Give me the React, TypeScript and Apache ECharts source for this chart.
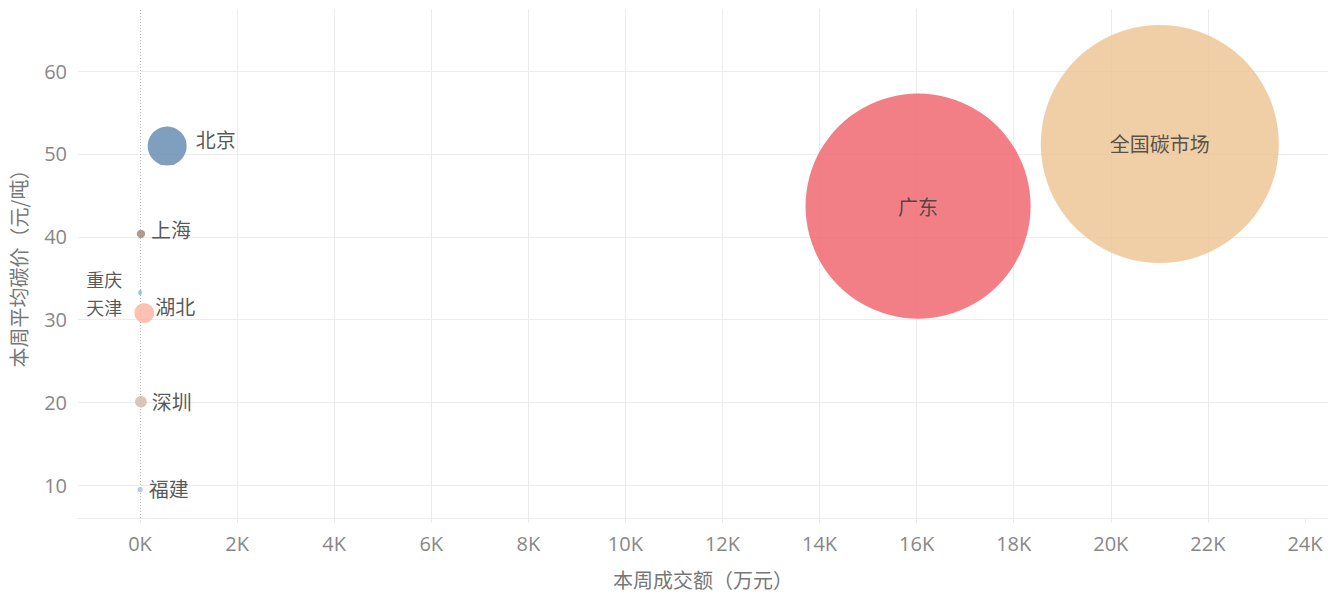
import React, { useEffect, useRef } from "react";
import * as echarts from "echarts";

// Weekly carbon market summary: turnover (万元) against average price (元/吨)
const markets = ["全国碳市场", "广东", "北京", "湖北", "上海", "深圳", "天津", "重庆", "福建"];
const weeklyTurnover = [21010, 16030, 560, 88, 20, 20, 3, 3, 2];
const weeklyAvgPrice = [51.2, 43.7, 50.95, 30.8, 40.35, 20.1, 33.2, 33.4, 9.5];

// Axis ticks
const xTicks = [0, 2000, 4000, 6000, 8000, 10000, 12000, 14000, 16000, 18000, 20000, 22000, 24000];
const yTicks = [10, 20, 30, 40, 50, 60];

const X_MIN = -1277;
const X_MAX = 24475;
const Y_MIN = 6.08;
const Y_MAX = 67.48;

const OPACITY = 0.85;
const colors: Record<string, string> = {
  全国碳市场: "#EDC796",
  广东: "#F16971",
  北京: "#6A8DB2",
  湖北: "#FBB6A4",
  上海: "#A28879",
  深圳: "#D6BBAD",
  天津: "#8FBEE4",
  重庆: "#8FBEE4",
  福建: "#AFC6DE",
};

const labelStyle: Record<string, any> = {
  全国碳市场: { position: "inside" },
  广东: { position: "inside" },
  北京: { position: "right", distance: 9, offset: [0, -7] },
  上海: { position: "right", distance: 6, offset: [0, -4] },
  湖北: { position: "right", distance: 1, offset: [0, -7] },
  深圳: { position: "right", distance: 5, offset: [0, 0] },
  福建: { position: "right", distance: 6, offset: [0, -1] },
  天津: { position: "left", distance: 16, offset: [0, 14], fontSize: 18, lineHeight: 18 },
  重庆: { position: "left", distance: 16, offset: [0, -13], fontSize: 18, lineHeight: 18 },
};

const CJK = "'Noto Sans CJK SC', 'Noto Sans', sans-serif";
const NUM = "'Open Sans', 'Noto Sans', sans-serif";
const GRID = "#ececec";

// bubble area follows traded volume (turnover / price)
const bubbleDiameter = (turnover: number, price: number) =>
  Math.max(3, 11.75 * Math.sqrt(turnover / price));

export default function App() {
  const ref = useRef<HTMLDivElement>(null);

  useEffect(() => {
    if (!ref.current) return;
    const chart = echarts.init(ref.current, undefined, { renderer: "svg" });

    const data = markets.map((name, i) => ({
      name,
      value: [weeklyTurnover[i], weeklyAvgPrice[i]],
      symbolSize: bubbleDiameter(weeklyTurnover[i], weeklyAvgPrice[i]),
      itemStyle: { color: colors[name], opacity: OPACITY },
      label: { show: true, ...labelStyle[name] },
    }));

    chart.setOption({
      animation: false,
      textStyle: { fontFamily: CJK },
      grid: { left: 78, right: 9, top: 9, bottom: 76, containLabel: false },
      xAxis: {
        type: "value",
        min: X_MIN,
        max: X_MAX,
        splitNumber: 12,
        name: "本周成交额（万元）",
        nameLocation: "middle",
        nameGap: 51,
        nameTextStyle: { color: "#777", fontSize: 20, fontFamily: CJK },
        axisLine: { show: true, lineStyle: { color: GRID } },
        axisTick: { show: true, length: 5, lineStyle: { color: GRID }, customValues: xTicks },
        axisLabel: {
          color: "#888",
          fontSize: 20,
          fontFamily: NUM,
          margin: 15,
          showMinLabel: false,
          showMaxLabel: false,
          formatter: (v: number) => (xTicks.includes(v) ? `${v / 1000}K` : ""),
        },
        splitLine: { show: true, showMaxLine: false, lineStyle: { color: GRID, width: 1 } },
      },
      yAxis: {
        type: "value",
        min: Y_MIN,
        max: Y_MAX,
        splitNumber: 6,
        name: "本周平均碳价（元/吨）",
        nameLocation: "middle",
        nameRotate: 90,
        nameGap: 50,
        nameTextStyle: { color: "#777", fontSize: 20, fontFamily: CJK },
        axisLine: { show: true, lineStyle: { color: GRID } },
        axisTick: { show: true, length: 8, lineStyle: { color: GRID }, customValues: yTicks },
        axisLabel: {
          color: "#888",
          fontSize: 20,
          fontFamily: NUM,
          margin: 11,
          showMinLabel: false,
          showMaxLabel: false,
          formatter: (v: number) => (yTicks.includes(v) ? `${v}` : ""),
        },
        splitLine: { show: true, lineStyle: { color: GRID, width: 1 } },
      },
      series: [
        {
          type: "scatter",
          data,
          z: 2,
          label: {
            color: "#3a3a3a",
            fontSize: 20,
            lineHeight: 20,
            fontFamily: CJK,
            formatter: "{b}",
          },
          emphasis: { disabled: true },
          markLine: {
            silent: true,
            z: 1,
            symbol: ["none", "none"],
            label: { show: false },
            emphasis: { disabled: true },
            data: [
              { xAxis: 0, lineStyle: { color: "#ffffff", width: 2, type: "solid" } },
              { xAxis: 0, lineStyle: { color: "#b4b4b4", width: 1, type: [1, 2] } },
            ],
          },
        },
      ],
    });

    return () => chart.dispose();
  }, []);

  return (
    <div
      ref={ref}
      style={{ position: "absolute", left: 0, top: 0, width: 1337, height: 594, background: "#fff" }}
    />
  );
}
